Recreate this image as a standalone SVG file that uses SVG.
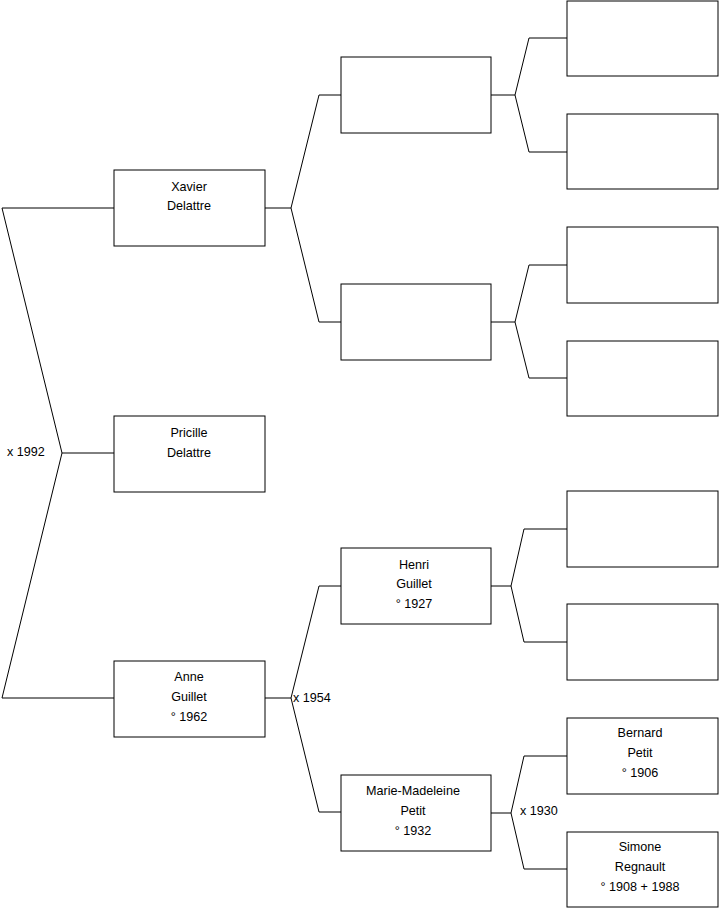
<svg xmlns="http://www.w3.org/2000/svg" width="719" height="908" viewBox="0 0 719 908">
<style>
.box{fill:#fff;stroke:#000;stroke-width:1}
.c{fill:none;stroke:#000;stroke-width:1}
text{font-family:"Liberation Sans",Arial,sans-serif;font-size:12.6px;fill:#000}
.m{text-anchor:middle}
</style>
<rect width="719" height="908" fill="#fff"/>
<g id="connectors">
<polyline class="c" points="114,208 2,208 62,453 2,698 114,698"/>
<line class="c" x1="62" y1="453" x2="114" y2="453"/>
<polyline class="c" points="341,95 319,95 291,208 319,322 341,322"/>
<line class="c" x1="265" y1="208" x2="291" y2="208"/>
<polyline class="c" points="567,38 529,38 515,95 529,152 567,152"/>
<line class="c" x1="491" y1="95" x2="515" y2="95"/>
<polyline class="c" points="567,265 529,265 515,322 529,378 567,378"/>
<line class="c" x1="491" y1="322" x2="515" y2="322"/>
<polyline class="c" points="341,586 319,586 291,698 319,812 341,812"/>
<line class="c" x1="265" y1="698" x2="291" y2="698"/>
<polyline class="c" points="567,529 524,529 511,586 524,642 567,642"/>
<line class="c" x1="491" y1="586" x2="511" y2="586"/>
<polyline class="c" points="567,756 524,756 511,813 524,869 567,869"/>
<line class="c" x1="491" y1="813" x2="511" y2="813"/>
<text x="7" y="456">x 1992</text>
<text x="293" y="702">x 1954</text>
<text x="520" y="815">x 1930</text>
</g>
<g id="xavier"><rect class="box" x="114" y="170" width="151" height="76"/><text class="m" x="189" y="191">Xavier</text><text class="m" x="189" y="210">Delattre</text></g>
<g id="pricille"><rect class="box" x="114" y="416" width="151" height="76"/><text class="m" x="189" y="437">Pricille</text><text class="m" x="189" y="457">Delattre</text></g>
<g id="anne"><rect class="box" x="114" y="661" width="151" height="76"/><text class="m" x="189" y="681">Anne</text><text class="m" x="189" y="701">Guillet</text><text class="m" x="189" y="721">° 1962</text></g>
<g id="p1"><rect class="box" x="341" y="57" width="150" height="76"/></g>
<g id="p2"><rect class="box" x="341" y="284" width="150" height="76"/></g>
<g id="henri"><rect class="box" x="341" y="548" width="150" height="76"/><text class="m" x="414" y="569">Henri</text><text class="m" x="414" y="588">Guillet</text><text class="m" x="414" y="608">° 1927</text></g>
<g id="marie"><rect class="box" x="341" y="775" width="150" height="76"/><text class="m" x="413" y="795">Marie-Madeleine</text><text class="m" x="413" y="815">Petit</text><text class="m" x="413" y="835">° 1932</text></g>
<g id="g1"><rect class="box" x="567" y="1" width="151" height="75"/></g>
<g id="g2"><rect class="box" x="567" y="114" width="151" height="75"/></g>
<g id="g3"><rect class="box" x="567" y="227" width="151" height="76"/></g>
<g id="g4"><rect class="box" x="567" y="341" width="151" height="75"/></g>
<g id="g5"><rect class="box" x="567" y="491" width="151" height="76"/></g>
<g id="g6"><rect class="box" x="567" y="604" width="151" height="76"/></g>
<g id="bernard"><rect class="box" x="567" y="718" width="151" height="76"/><text class="m" x="640" y="737">Bernard</text><text class="m" x="640" y="757">Petit</text><text class="m" x="640" y="777">° 1906</text></g>
<g id="simone"><rect class="box" x="567" y="832" width="151" height="75"/><text class="m" x="640" y="851">Simone</text><text class="m" x="640" y="871">Regnault</text><text class="m" x="640" y="891">° 1908 + 1988</text></g>
</svg>
